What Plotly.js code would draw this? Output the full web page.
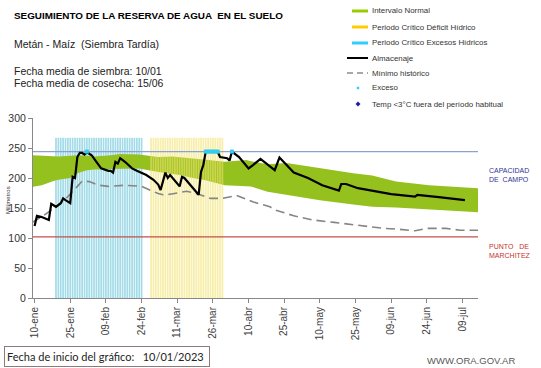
<!DOCTYPE html>
<html><head><meta charset="utf-8">
<script src="https://cdn.plot.ly/plotly-3.0.1.min.js"></script>
<style>html,body{margin:0;padding:0;background:#fff}#c{width:541px;height:368px}</style>
</head><body><div id="c"></div>
<script>
// ---- data ----
const almDates = ['2023-01-10','2023-01-11','2023-01-13','2023-01-16','2023-01-17','2023-01-19','2023-01-21','2023-01-22','2023-01-23','2023-01-25','2023-01-26','2023-01-27','2023-01-28','2023-01-29','2023-01-30','2023-01-31','2023-02-01','2023-02-03','2023-02-05','2023-02-07','2023-02-10','2023-02-11','2023-02-12','2023-02-13','2023-02-14','2023-02-15','2023-02-17','2023-02-20','2023-02-22','2023-02-24','2023-02-26','2023-03-01','2023-03-03','2023-03-04','2023-03-06','2023-03-07','2023-03-08','2023-03-12','2023-03-13','2023-03-14','2023-03-20','2023-03-21','2023-03-22','2023-03-23','2023-03-28','2023-03-29','2023-04-01','2023-04-02','2023-04-03','2023-04-06','2023-04-10','2023-04-12','2023-04-14','2023-04-15','2023-04-21','2023-04-23','2023-04-29','2023-05-05','2023-05-11','2023-05-18','2023-05-19','2023-05-21','2023-05-26','2023-06-03','2023-06-09','2023-06-19','2023-06-20','2023-06-29','2023-07-10'];
const almVals = [120,137,135,130,157,152,158,166,163,158,202,200,235,242,242,239,243,238,227,216,212,212,209,227,224,233,227,216,212,208,205,197,189,180,209,200,205,186,202,200,172,210,222,244,244,235,233,229,244,235,216,222,228,232,213,234,209,200,188,179,190,190,183,177,173,169,172,168,163];

const minDates = ['2023-01-09','2023-01-14','2023-01-20','2023-01-24','2023-01-28','2023-01-30','2023-02-02','2023-02-06','2023-02-10','2023-02-17','2023-02-24','2023-03-03','2023-03-05','2023-03-08','2023-03-15','2023-03-20','2023-03-25','2023-03-30','2023-04-05','2023-04-09','2023-04-12','2023-04-19','2023-04-21','2023-04-29','2023-05-07','2023-05-16','2023-05-24','2023-05-31','2023-06-06','2023-06-11','2023-06-19','2023-06-24','2023-07-02','2023-07-08','2023-07-16'];
const minVals = [126,138,155,169,186,195,194,188,186,188,186,174,172,173,178,173,166,166,171,165,160,152,147,137,130,126,122,119,116,115,112,116,116,113,113];

const bandDates = ['2023-01-09','2023-01-13','2023-01-18','2023-01-20','2023-01-25','2023-01-28','2023-02-01','2023-02-04','2023-02-11','2023-02-15','2023-02-23','2023-03-03','2023-03-09','2023-03-12','2023-03-20','2023-03-22','2023-03-31','2023-04-09','2023-04-11','2023-04-18','2023-04-26','2023-05-10','2023-05-24','2023-06-01','2023-06-11','2023-06-25','2023-07-16'];
const bandUpper = [238,237,236,236,237,238,237,236,238,240,239,235,236,235,232,231,227,230,228,223,225,216,208,204,194,188,183];
const bandLower = [185,188,195,197,200,208,213,214,215,215,216,210,207,205,198,197,188,187,186,177,172,163,156,152,151,148,143];

const excesoDates = ['2023-02-01','2023-03-23','2023-03-24','2023-03-25','2023-03-26','2023-03-27','2023-03-28','2023-04-03'];
const excesoVals = [244,244,244,244,244,244,244,244];

const excesosPeriod = ['2023-01-19','2023-02-24'];
const deficitPeriod = ['2023-02-28','2023-03-30'];
const periodBarHeight = 267;

const capacidadCampo = 244;
const puntoMarchitez = 102;

const tickDates = ['2023-01-10','2023-01-25','2023-02-09','2023-02-24','2023-03-11','2023-03-26','2023-04-10','2023-04-25','2023-05-10','2023-05-25','2023-06-09','2023-06-24','2023-07-09'];
const tickLabels = ['10-ene','25-ene','09-feb','24-feb','11-mar','26-mar','10-abr','25-abr','10-may','25-may','09-jun','24-jun','09-jul'];

const xRange = ['2023-01-09 08:00','2023-07-15 12:00'];

// ---- helpers ----
function daysOf(p){
  const out=[]; const d=new Date(p[0]+'T00:00:00Z'); const e=new Date(p[1]+'T00:00:00Z');
  while(d<=e){ out.push(d.toISOString().slice(0,10)); d.setUTCDate(d.getUTCDate()+1); }
  return out;
}
const excDays = daysOf(excesosPeriod), defDays = daysOf(deficitPeriod);
const DAY = 86400000;

const L=33,R=63,T=118,B=70,W=541,H=368,PW=W-L-R,PH=H-T-B;
const px = p => (p-L)/PW;
const py = p => (H-B-p)/PH;

const FONT = 'Liberation Sans, Arial, sans-serif';

const traces = [
  {type:'bar', x:excDays, y:excDays.map(()=>periodBarHeight), width:0.72*DAY,
   marker:{color:'#A3DCE8', line:{width:0}}, xaxis:'x', yaxis:'y', hoverinfo:'skip'},
  {type:'scatter', mode:'lines', x:bandDates, y:bandLower, line:{width:0, color:'#95C11F'}, xaxis:'x', yaxis:'y', hoverinfo:'skip'},
  {type:'scatter', mode:'lines', x:bandDates, y:bandUpper, line:{width:0, color:'#95C11F'}, fill:'tonexty', fillcolor:'#95C11F', xaxis:'x', yaxis:'y', hoverinfo:'skip'},
  {type:'bar', x:defDays, y:defDays.map(()=>periodBarHeight), width:0.72*DAY,
   marker:{color:'#F3E36E', line:{width:0}}, opacity:0.6, xaxis:'x2', yaxis:'y2', hoverinfo:'skip'},
  {type:'scatter', mode:'lines', x:xRange, y:[capacidadCampo,capacidadCampo], line:{color:'#8EA2CF', width:1.2}, xaxis:'x2', yaxis:'y2'},
  {type:'scatter', mode:'lines', x:xRange, y:[puntoMarchitez,puntoMarchitez], line:{color:'#C0504D', width:1.2}, xaxis:'x2', yaxis:'y2'},
  {type:'scatter', mode:'lines', x:minDates, y:minVals, line:{color:'#858585', width:1.6, dash:'9px,5px'}, xaxis:'x2', yaxis:'y2'},
  {type:'scatter', mode:'lines', x:almDates, y:almVals, line:{color:'#000', width:2.2}, xaxis:'x2', yaxis:'y2'},
  {type:'scatter', mode:'markers', x:excesoDates, y:excesoVals, marker:{color:'#33CCEE', size:4, symbol:'square'}, xaxis:'x2', yaxis:'y2'}
];

function ann(x,y,text,size,color,extra){
  return Object.assign({xref:'paper',yref:'paper',x:px(x),y:py(y),text:text,showarrow:false,xanchor:'left',yanchor:'middle',
    font:{family:FONT,size:size,color:color}},extra||{});
}

const legItems = [
  ['Intervalo Normal',11],['Periodo Crítico Déficit Hídrico',27],['Periodo Crítico Excesos Hídricos',43],
  ['Almacenaje',58],['Mínimo histórico',73],['Exceso',88],['Temp <3°C fuera del período habitual',104]
];

const annotations = [
  ann(12,15,'<b>SEGUIMIENTO DE LA RESERVA DE AGUA  EN EL SUELO</b>',9.9,'#000'),
  ann(12,44,'Metán - Maíz  (Siembra Tardía)',10.5,'#222'),
  ann(12,71,'Fecha media de siembra: 10/01',10.5,'#222'),
  ann(12,83,'Fecha media de cosecha: 15/06',10.5,'#222'),
  ann(487,175,'CAPACIDAD<br>DE  CAMPO',7,'#333399',{align:'left'}),
  ann(487,251,'PUNTO   DE<br>MARCHITEZ',7,'#C83232',{align:'left'}),
  ann(425,360,'WWW.ORA.GOV.AR',9.5,'#595959'),
  ann(4,356,'Fecha de inicio del gráfico:   10/01/2023',10.5,'#222',{font:{family:'Lato, sans-serif',size:11,color:'#222'},
     bordercolor:'#8C7B7B',borderwidth:1,borderpad:2,width:200,height:15,align:'left'}),
  Object.assign(ann(8,200,'Milímetros',6,'#333'),{textangle:-90,xanchor:'center'})
];
legItems.forEach(it=>annotations.push(ann(369.5,it[1],it[0],7.9,'#333')));

function rect(x0,x1,y0,y1,c){return {type:'rect',xref:'paper',yref:'paper',x0:px(x0),x1:px(x1),y0:py(y0),y1:py(y1),fillcolor:c,line:{width:0}};}
function hline(x0,x1,y,c,w,d){return {type:'line',xref:'paper',yref:'paper',x0:px(x0),x1:px(x1),y0:py(y),y1:py(y),line:{color:c,width:w,dash:d||'solid'}};}
const shapes = [
  rect(352,368,9.5,12.5,'#99CC00'),
  rect(352,368,25.5,28.5,'#FFCC00'),
  rect(352,368,41.5,44.5,'#33CCFF'),
  hline(347,368,58,'#000',2),
  hline(347,368,73,'#8C8C8C',1.5,'6px,4px'),
  rect(356.8,359.2,86.8,89.2,'#33CCEE'),
  {type:'path',xref:'paper',yref:'paper',
   path:`M ${px(358)} ${py(101.5)} L ${px(360.5)} ${py(104)} L ${px(358)} ${py(106.5)} L ${px(355.5)} ${py(104)} Z`,
   fillcolor:'#1F1FA0',line:{width:0}}
];

const layout = {
  width:W, height:H, margin:{l:L,r:R,t:T,b:B,pad:0},
  paper_bgcolor:'#fff', plot_bgcolor:'#fff', showlegend:false,
  xaxis:{type:'date', range:xRange, showgrid:false, zeroline:false, showline:true, linecolor:'#888', linewidth:1,
    ticks:'outside', ticklen:4, tickcolor:'#888', tickvals:tickDates, ticktext:tickLabels, tickangle:-90,
    tickfont:{family:FONT,size:10,color:'#404040'}},
  yaxis:{range:[0,300], tickvals:[0,50,100,150,200,250,300], showgrid:false, zeroline:false, showline:true, linecolor:'#888', linewidth:1,
    ticks:'outside', ticklen:4, tickcolor:'#888', tickfont:{family:FONT,size:10.5,color:'#333'}},
  xaxis2:{type:'date', range:xRange, overlaying:'x', visible:false, showgrid:false, zeroline:false},
  yaxis2:{range:[0,300], overlaying:'y', visible:false, showgrid:false, zeroline:false},
  annotations:annotations, shapes:shapes
};

Plotly.newPlot('c', traces, layout, {staticPlot:true, displayModeBar:false});
</script></body></html>
